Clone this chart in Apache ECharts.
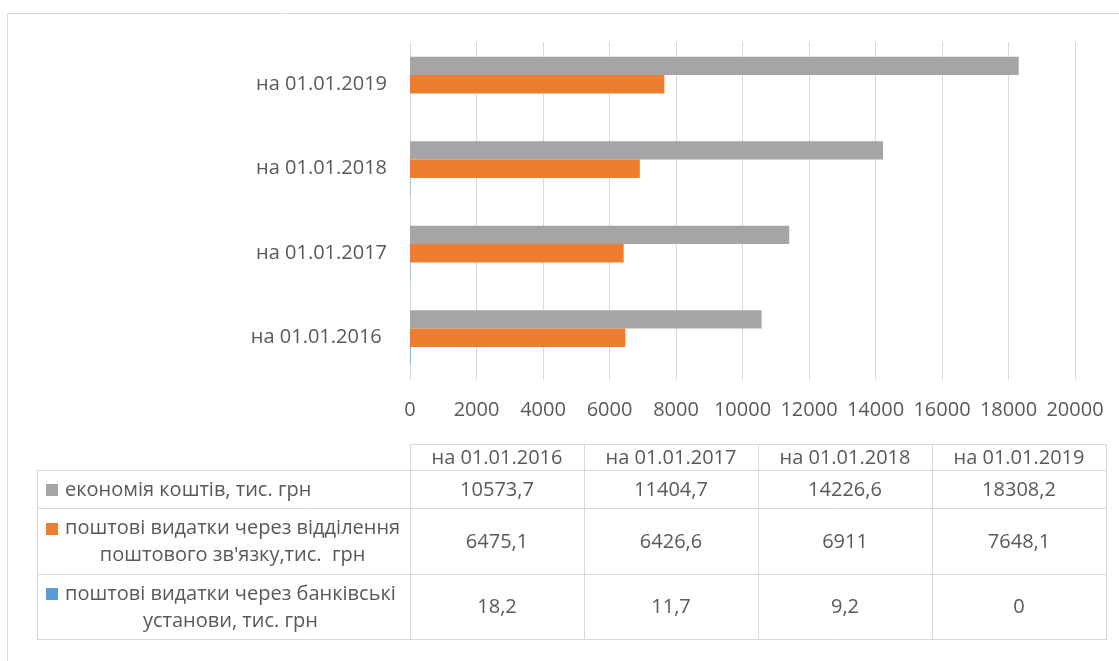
<!DOCTYPE html>
<html>
<head>
<meta charset="utf-8">
<script src="https://cdn.jsdelivr.net/npm/echarts@6/dist/echarts.min.js"></script>
<style>html,body{margin:0;padding:0;background:#fff;}#c{width:1119px;height:661px;}</style>
</head>
<body>
<div id="c"></div>
<script>
// ---- data ----
const categories = ['на 01.01.2016 ', 'на 01.01.2017', 'на 01.01.2018', 'на 01.01.2019'];
const seriesNames = [
  'економія коштів, тис. грн',
  "поштові видатки через відділення поштового зв'язку,тис.  грн",
  'поштові видатки через банківські установи, тис. грн'
];
const tableRowLabels = [
  'економія коштів, тис. грн',
  "поштові видатки через відділення\nпоштового зв'язку,тис.  грн",
  'поштові видатки через банківські\nустанови, тис. грн'
];
const economyValues = [10573.7, 11404.7, 14226.6, 18308.2];
const postOfficeValues = [6475.1, 6426.6, 6911, 7648.1];
const bankValues = [18.2, 11.7, 9.2, 0];
const xMin = 0, xMax = 20000, xInterval = 2000;

// ---- style ----
const FONT_FAMILY = '"Open Sans", "Noto Sans", sans-serif';
const FONT_SIZE = 20;
const TEXT_COLOR = '#595959';
const LINE_COLOR = '#D9D9D9';
const colors = ['#A5A5A5', '#ED7D31', '#5B9BD5'];
const seriesValues = [economyValues, postOfficeValues, bankValues];

// table layout
const T_LEFT = 37, T_COL0 = 410, T_COLW = 174;
const T_ROWS = [444, 470, 508, 574, 639];
const T_RIGHT = T_COL0 + T_COLW * categories.length;
const LINE_H = 27;

const ctx = document.createElement('canvas').getContext('2d');
ctx.font = FONT_SIZE + 'px ' + FONT_FAMILY;

const fmt = v => String(v).replace('.', ',');
const els = [];
const px = v => Math.round(v) + 0.5;
function hline(y, x1, x2) {
  els.push({type: 'line', silent: true, shape: {x1: x1, y1: px(y), x2: x2, y2: px(y)}, style: {stroke: LINE_COLOR, lineWidth: 1}});
}
function vline(x, y1, y2) {
  els.push({type: 'line', silent: true, shape: {x1: px(x), y1: y1, x2: px(x), y2: y2}, style: {stroke: LINE_COLOR, lineWidth: 1}});
}
function text(str, x, y, align) {
  els.push({type: 'text', silent: true, style: {
    text: str, x: x, y: y, fill: TEXT_COLOR, font: FONT_SIZE + 'px ' + FONT_FAMILY,
    align: align, textAlign: align, verticalAlign: 'middle', textVerticalAlign: 'middle', lineHeight: LINE_H
  }});
}
// outer border
els.push({type: 'rect', silent: true, shape: {x: 7.5, y: 13.5, width: 1200, height: 700}, style: {fill: 'none', stroke: LINE_COLOR, lineWidth: 1}});
// horizontal lines
hline(T_ROWS[0], T_COL0, T_RIGHT + 1);
for (let i = 1; i < T_ROWS.length; i++) hline(T_ROWS[i], T_LEFT, T_RIGHT + 1);
// vertical lines
vline(T_LEFT, T_ROWS[1], T_ROWS[T_ROWS.length - 1]);
for (let c = 0; c <= categories.length; c++) vline(T_COL0 + c * T_COLW, T_ROWS[0], T_ROWS[T_ROWS.length - 1]);
// header
categories.forEach((cat, c) => {
  text(cat.trim(), T_COL0 + c * T_COLW + T_COLW / 2, (T_ROWS[0] + T_ROWS[1]) / 2 + 1, 'center');
});
// rows
seriesValues.forEach((vals, r) => {
  const yTop = T_ROWS[r + 1], yBot = T_ROWS[r + 2];
  const yc = (yTop + yBot) / 2 + 1;
  const lines = tableRowLabels[r].split('\n');
  const firstY = yc - (lines.length - 1) * LINE_H / 2;
  els.push({type: 'rect', silent: true, shape: {x: 46, y: Math.round(firstY - 6), width: 12, height: 12}, style: {fill: colors[r]}});
  const textX = 65;
  if (lines.length === 1) {
    text(lines[0], textX, yc, 'left');
  } else {
    const w = ctx.measureText(lines[0]).width;
    text(tableRowLabels[r], textX + w / 2, yc, 'center');
  }
  vals.forEach((v, c) => {
    text(fmt(v), T_COL0 + c * T_COLW + T_COLW / 2, yc, 'center');
  });
});

const chart = echarts.init(document.getElementById('c'), null, {renderer: 'canvas'});
chart.setOption({
  backgroundColor: '#fff',
  animation: false,
  textStyle: {fontFamily: FONT_FAMILY},
  grid: {left: 410, right: 44, top: 42, bottom: 281, containLabel: false},
  xAxis: {
    type: 'value', min: xMin, max: xMax, interval: xInterval,
    axisLine: {show: false}, axisTick: {show: false},
    splitLine: {show: true, lineStyle: {color: LINE_COLOR, width: 1}},
    axisLabel: {color: TEXT_COLOR, fontSize: FONT_SIZE, fontFamily: FONT_FAMILY, margin: 20,
      formatter: v => String(v)}
  },
  yAxis: {
    type: 'category', data: categories,
    axisLine: {show: false}, axisTick: {show: false},
    axisLabel: {color: TEXT_COLOR, fontSize: FONT_SIZE, fontFamily: FONT_FAMILY, margin: 23}
  },
  series: seriesNames.map((name, i) => ({
    type: 'bar', name: name, data: seriesValues[i],
    itemStyle: {color: colors[i]},
    barGap: '0%', barCategoryGap: '35%'
  })),
  graphic: {elements: els}
});
</script>
</body>
</html>
